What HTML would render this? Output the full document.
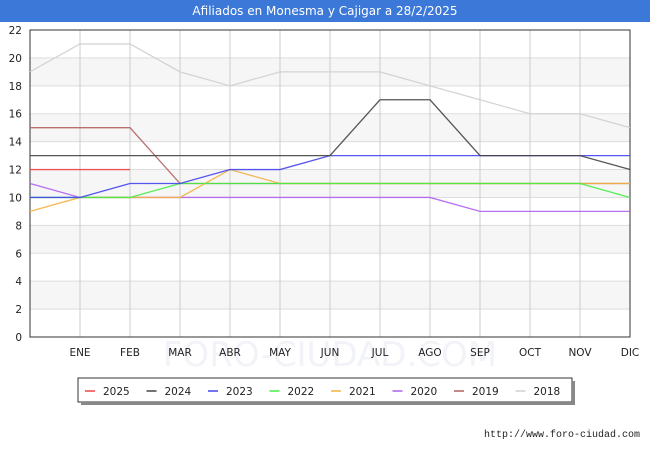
<!DOCTYPE html>
<html><head><meta charset="utf-8"><style>
body{margin:0;width:650px;height:450px;background:#fff;font-family:"DejaVu Sans","Liberation Sans",sans-serif;overflow:hidden}
#title{position:absolute;left:0;top:0;width:650px;height:22px;background:#3b78d8;color:#fff;font-size:12px;text-align:center;line-height:22px}
</style></head><body>
<div id="title">Afiliados en Monesma y Cajigar a 28/2/2025</div>
<svg id="chart" width="650" height="450" style="position:absolute;left:0;top:0"></svg>
<script>
const months=["","ENE","FEB","MAR","ABR","MAY","JUN","JUL","AGO","SEP","OCT","NOV","DIC"];
const yTicks=[0,2,4,6,8,10,12,14,16,18,20,22];
const seriesNames=["2025","2024","2023","2022","2021","2020","2019","2018"];
const seriesColors=["#ee4444","#444444","#4444ee","#44ee44","#f4b040","#b060ee","#b06060","#d0d0d0"];
const s2018=[19,21,21,19,18,19,19,19,18,17,16,16,15];
const s2019=[15,15,15,11,11,11,11,11,11,11,11,11,11];
const s2020=[11,10,10,10,10,10,10,10,10,9,9,9,9];
const s2021=[9,10,10,10,12,11,11,11,11,11,11,11,11];
const s2022=[10,10,10,11,11,11,11,11,11,11,11,11,10];
const s2023=[10,10,11,11,12,12,13,13,13,13,13,13,13];
const s2024=[13,13,13,13,13,13,13,17,17,13,13,13,12];
const s2025=[12,12,12];
const seriesData=[s2025,s2024,s2023,s2022,s2021,s2020,s2019,s2018];
const svg=document.getElementById('chart');const NS="http://www.w3.org/2000/svg";
const X0=30,X1=630,Y0=337,Y1=30,YMAX=22;
const x=i=>X0+i*(X1-X0)/12;const y=v=>Y0-v*(Y0-Y1)/YMAX;
function el(t,a,p){const e=document.createElementNS(NS,t);for(const k in a)e.setAttribute(k,a[k]);(p||svg).appendChild(e);return e;}
for(let i=0;i<yTicks.length-1;i++){if(i%2===1){const b=el('rect',{x:X0,y:y(yTicks[i+1]),width:X1-X0,height:y(yTicks[i])-y(yTicks[i+1]),fill:'#f6f6f6'});

}}
const wm=el('text',{x:330,y:366,'text-anchor':'middle','font-size':34,fill:'#f2f3f8'});wm.textContent="FORO-CIUDAD.COM";


yTicks.forEach(v=>{const g=el('line',{x1:X0,x2:X1,y1:y(v),y2:y(v),stroke:'#dddddd'});


const t=el('text',{x:X0-8,y:y(v)+4,'text-anchor':'end','font-size':10.5,fill:'#222'});t.textContent=v;

});
months.forEach((m,i)=>{if(i>0){const g=el('line',{x1:x(i),x2:x(i),y1:Y1,y2:Y0,stroke:'#cccccc'});

}
const t=el('text',{x:x(i),y:356,'text-anchor':'middle','font-size':10.5,fill:'#222'});t.textContent=m;

});
const bd=el('rect',{x:X0,y:Y1,width:X1-X0,height:Y0-Y1,fill:'none',stroke:'#333'});


for(let k=seriesData.length-1;k>=0;k--){const d=seriesData[k];
const p=el('polyline',{points:d.map((v,i)=>x(i)+','+y(v)).join(' '),fill:'none',stroke:seriesColors[k],'stroke-width':1.3,opacity:0.9});

}
const lg=el('rect',{x:78,y:378,width:494,height:24,fill:'#fff',stroke:'#333'});


el('rect',{x:572,y:381,width:3,height:24,fill:'#888'});el('rect',{x:81,y:402,width:494,height:3,fill:'#888'});
seriesNames.forEach((n,k)=>{const lx=85+k*61.5;
const l=el('line',{x1:lx,x2:lx+10,y1:391,y2:391,stroke:seriesColors[k],'stroke-width':1.5});


const t=el('text',{x:lx+18,y:395,'font-size':10.5,fill:'#222'});t.textContent=n;

});
const f=el('text',{x:640,y:437,'text-anchor':'end','font-size':10,fill:'#222','font-family':'Liberation Mono, monospace'});f.textContent="http://www.foro-ciudad.com";


</script>
</body></html>
